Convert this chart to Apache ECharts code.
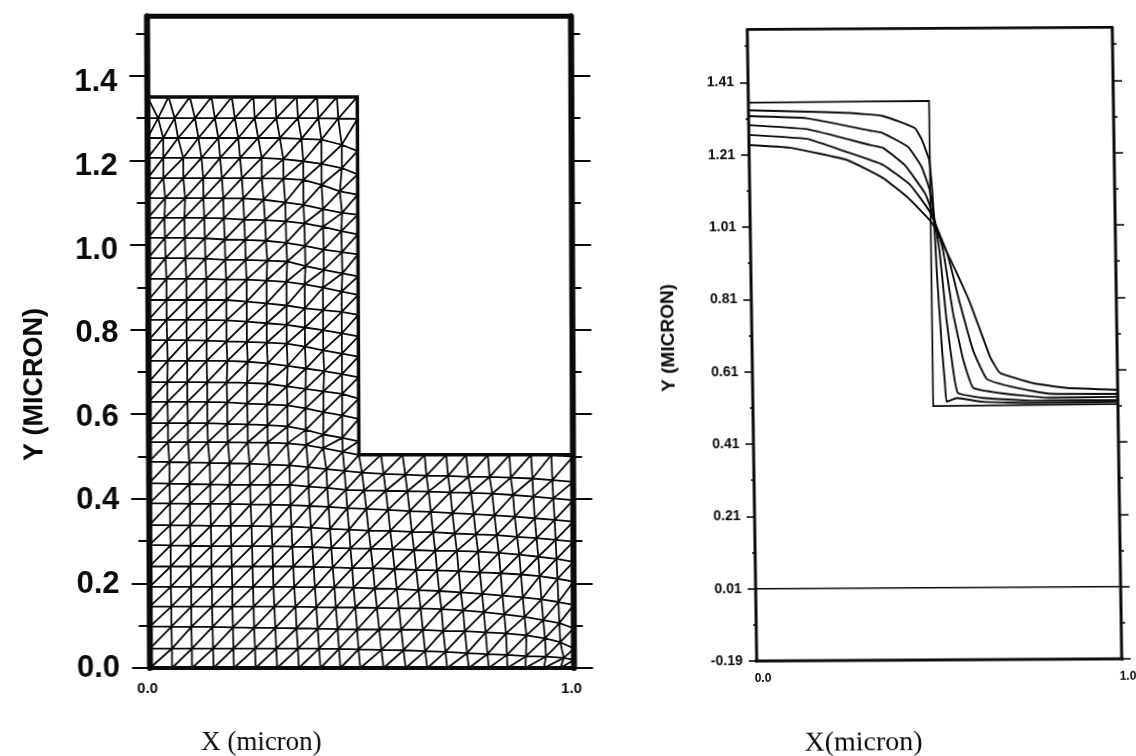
<!DOCTYPE html>
<html><head><meta charset="utf-8">
<script src="https://cdn.jsdelivr.net/npm/echarts@6/dist/echarts.min.js"></script>
<style>
html,body{margin:0;padding:0;background:#fff;width:1136px;height:756px;overflow:hidden}
#left{position:absolute;left:0;top:0;width:640px;height:756px;transform-origin:360px 342px;transform:matrix(1,0,0.0046,1,0,0)}
#right{position:absolute;left:640px;top:0;width:496px;height:756px;transform-origin:294.5px 344.5px;transform:matrix(1,-0.006,0.015,1,0,0)}
</style></head><body>
<div id="left"></div><div id="right"></div>
<script>
// ---- left panel: finite-element mesh, node coordinates in micron (row 0 = bottom) ----
const meshX = [
[0,.052,.099,.150,.198,.249,.300,.351,.402,.449,.496,.551,.603,.654,.701,.752,.799,.843,.885,.929,.968,1],
[0,.052,.099,.149,.197,.248,.298,.349,.399,.446,.492,.546,.598,.649,.697,.748,.796,.842,.887,.934,.976,1],
[0,.051,.098,.148,.196,.246,.296,.346,.396,.443,.489,.541,.593,.644,.692,.743,.792,.840,.888,.932,.968,1],
[0,.051,.098,.147,.195,.245,.294,.344,.393,.439,.485,.536,.588,.639,.688,.739,.788,.836,.884,.928,.966,1],
[0,.050,.098,.147,.195,.244,.292,.341,.390,.436,.481,.531,.583,.634,.683,.734,.784,.832,.880,.924,.964,1],
[0,.050,.097,.146,.194,.243,.291,.339,.387,.432,.478,.527,.578,.629,.678,.729,.779,.828,.876,.920,.962,1],
[0,.050,.097,.146,.193,.242,.290,.337,.384,.429,.474,.522,.573,.624,.674,.725,.775,.824,.872,.917,.960,1],
[0,.049,.096,.145,.192,.241,.288,.335,.381,.426,.471,.517,.568,.619,.669,.720,.770,.819,.867,.913,.958,1],
[0,.049,.096,.144,.191,.239,.286,.333,.378,.423,.467,.512,.563,.614,.664,.715,.765,.814,.862,.909,.956,1],
[0,.048,.095,.144,.190,.238,.285,.332,.376,.420,.464,.507,.558,.609,.659,.710,.759,.809,.858,.906,.953,1],
[0,.048,.095,.143,.190,.237,.284,.331,.375,.418,.461,.502,.553,.604,.654,.705,.753,.803,.853,.904,.951,1],
[0,.045,.092,.139,.186,.233,.280,.327,.371,.411,.457,.495,.547,.598,.650,.701,.748,.799,.850,.901,.949,1],
[0,.045,.092,.138,.185,.233,.280,.327,.370,.411,.456,.495],
[0,.044,.091,.138,.185,.232,.279,.327,.370,.412,.456,.495],
[0,.044,.091,.138,.184,.232,.280,.326,.370,.412,.456,.495],
[0,.045,.091,.137,.186,.234,.281,.328,.371,.414,.456,.495],
[0,.044,.090,.137,.184,.232,.279,.326,.369,.412,.456,.495],
[0,.043,.090,.137,.184,.232,.279,.326,.369,.412,.456,.495],
[0,.043,.090,.137,.184,.232,.279,.326,.369,.412,.456,.495],
[0,.043,.090,.137,.184,.232,.279,.326,.369,.412,.456,.495],
[0,.041,.088,.135,.182,.230,.281,.328,.371,.414,.458,.495],
[0,.040,.087,.134,.181,.229,.278,.326,.370,.414,.457,.495],
[0,.039,.086,.133,.179,.227,.276,.325,.369,.413,.456,.495],
[0,.041,.088,.131,.178,.225,.273,.324,.367,.413,.458,.495],
[0,.037,.084,.131,.175,.222,.269,.320,.367,.410,.453,.495],
[0,.037,.084,.127,.171,.218,.269,.320,.367,.410,.458,.495],
[0,.037,.072,.120,.167,.214,.261,.312,.363,.410,.458,.495],
[0,.025,.064,.112,.159,.206,.253,.304,.355,.403,.450,.495],
[0,0,.050,.100,.151,.199,.250,.301,.352,.400,.447,.495]
];
const meshY = [
[0,0,0,0,0,0,0,0,0,0,0,0,0,0,0,0,0,0,0,0,0,0],
[.046,.046,.046,.046,.046,.046,.046,.046,.046,.045,.044,.043,.042,.040,.038,.035,.033,.031,.028,.027,.024,.019],
[.098,.098,.097,.097,.096,.095,.095,.094,.093,.092,.091,.091,.091,.090,.088,.087,.084,.082,.077,.070,.061,.046],
[.145,.145,.145,.145,.145,.145,.145,.145,.144,.143,.143,.142,.141,.141,.139,.136,.132,.127,.121,.113,.106,.094],
[.192,.192,.192,.192,.192,.192,.192,.192,.191,.191,.190,.188,.187,.184,.182,.179,.175,.171,.167,.162,.156,.149],
[.240,.240,.240,.240,.240,.240,.240,.240,.239,.238,.236,.236,.234,.232,.231,.229,.226,.224,.221,.217,.211,.204],
[.291,.290,.289,.288,.288,.288,.288,.287,.286,.284,.283,.282,.281,.279,.277,.277,.275,.272,.268,.263,.258,.251],
[.338,.338,.337,.336,.336,.336,.335,.334,.332,.329,.327,.325,.324,.322,.321,.318,.316,.314,.310,.307,.303,.299],
[.389,.389,.388,.388,.388,.387,.386,.385,.383,.381,.378,.376,.374,.371,.369,.366,.364,.361,.358,.354,.350,.346],
[.437,.436,.435,.434,.433,.433,.433,.433,.429,.426,.421,.420,.419,.418,.417,.415,.414,.412,.409,.405,.401,.397],
[.488,.487,.486,.485,.484,.483,.481,.479,.475,.470,.466,.462,.459,.457,.455,.454,.452,.452,.450,.448,.444,.440],
[.534,.534,.534,.534,.534,.533,.533,.531,.527,.520,.511,.504,.504,.504,.504,.504,.504,.504,.504,.504,.504,.500],
[.579,.579,.579,.579,.577,.576,.574,.571,.563,.552,.544,.536],
[.629,.629,.629,.629,.628,.625,.623,.621,.614,.605,.597,.589],
[.676,.676,.676,.676,.675,.674,.672,.666,.660,.654,.648,.637],
[.726,.726,.726,.726,.726,.724,.720,.714,.708,.702,.695,.687],
[.775,.775,.775,.774,.772,.771,.769,.767,.760,.751,.743,.736],
[.823,.823,.823,.823,.822,.819,.815,.811,.805,.799,.791,.784],
[.870,.870,.870,.870,.870,.866,.862,.857,.850,.846,.842,.835],
[.920,.920,.920,.920,.918,.918,.916,.913,.907,.899,.890,.882],
[.969,.969,.969,.968,.965,.965,.963,.961,.950,.941,.933,.926],
[1.017,1.017,1.017,1.016,1.013,1.012,1.010,1.005,.998,.989,.983,.978],
[1.064,1.064,1.064,1.064,1.063,1.060,1.059,1.056,1.051,1.043,1.033,1.025],
[1.111,1.111,1.111,1.111,1.111,1.110,1.107,1.101,1.095,1.085,1.076,1.072],
[1.158,1.158,1.158,1.158,1.158,1.158,1.158,1.157,1.154,1.142,1.127,1.119],
[1.206,1.206,1.206,1.206,1.206,1.206,1.206,1.203,1.198,1.192,1.182,1.167],
[1.253,1.253,1.253,1.253,1.253,1.253,1.253,1.253,1.251,1.249,1.237,1.222],
[1.300,1.300,1.300,1.300,1.300,1.300,1.300,1.300,1.300,1.300,1.299,1.298],
[1.350,1.350,1.350,1.350,1.350,1.350,1.350,1.350,1.350,1.350,1.350,1.350]
];
const leftProfile = [[0,1.35],[.495,1.35],[.495,.504],[1,.504]];
const leftFrameTop = [[0,1.541],[1,1.541]];
const leftFrameSides = [[0,0],[0,1.541],null,[1,0],[1,1.541]];
const leftBaseline = [[-.045,0],[1.052,0]];
const leftLabelTicks = [0,.2,.4,.6,.8,1.0,1.2,1.4];
const xTickLabels = [0,1];

// ---- right panel: surface profiles, y in micron ----
const initialProfile = [[0,1.354],[.495,1.356],[.494,.512],[1,.515]];
const profileA = [[0,1.333],[.141,1.329],[.277,1.324],[.368,1.315],[.455,1.281],[.474,1.248],[.493,1.193],[.500,1.110],[.504,1.027],[.509,.888],[.520,.676],[.527,.576],[.531,.524],[.559,.534],[.630,.523],[.767,.519],[1,.521]];
const profileB = [[0,1.317],[.161,1.310],[.332,1.275],[.367,1.268],[.436,1.229],[.472,1.174],[.493,1.110],[.518,.936],[.534,.750],[.550,.612],[.562,.548],[.630,.534],[.767,.525],[1,.526]];
const profileC = [[0,1.292],[.160,1.280],[.332,1.235],[.367,1.227],[.426,1.179],[.480,1.101],[.499,1.046],[.527,.944],[.552,.770],[.578,.640],[.604,.562],[.677,.547],[.814,.533],[1,.535]];
const profileD = [[0,1.265],[.159,1.253],[.268,1.216],[.366,1.180],[.440,1.124],[.493,1.049],[.538,.936],[.571,.797],[.605,.667],[.642,.586],[.723,.561],[.814,.544],[1,.543]];
const profileE = [[0,1.237],[.112,1.229],[.268,1.194],[.365,1.144],[.431,1.091],[.498,1.019],[.551,.908],[.599,.797],[.652,.647],[.678,.603],[.768,.574],[.861,.560],[1,.554]];
const baseline = [[0,.01],[1,.01]];
const rightFrameTop = [[0,1.5566],[1,1.5566]];
const rightFrameSides = [[0,-.19],[0,1.5566],null,[1,-.19],[1,1.5566]];
const rightFrameBottom = [[-.012,-.19],[1.034,-.19]];
const rightMajorTicks = [-.19,.01,.21,.41,.61,.81,1.01,1.21,1.41];
const rightMinorTicks = [-.09,.11,.31,.51,.71,.91,1.11,1.31,1.51];

// ---- build mesh polylines from the node tables ----
const meshSegs = [];
const seg = (a, b) => meshSegs.push(a, b, null);
meshX.forEach((row, j) => {
  row.forEach((x, i) => {
    const p = [x, meshY[j][i]];
    if (i + 1 < row.length) seg(p, [row[i + 1], meshY[j][i + 1]]);
    if (j + 1 < meshX.length && i < meshX[j + 1].length) {
      seg(p, [meshX[j + 1][i], meshY[j + 1][i]]);
      if (i + 1 < meshX[j + 1].length && i + 1 < row.length) seg(p, [meshX[j + 1][i + 1], meshY[j + 1][i + 1]]);
    }
  });
});
const toLine = d => d.map(p => p === null ? ['-', '-'] : p);
const K = '#0a0a0a';
const lineS = (name, data, w, smooth) => ({
  type: 'line', name, data: toLine(data), showSymbol: false, symbol: 'none', clip: false, silent: true,
  connectNulls: false, animation: false, smooth: smooth || false,
  lineStyle: {color: K, width: w, cap: 'round', join: 'miter'}, z: 3
});
const SANS = '"Liberation Sans", Arial, sans-serif';
const SERIF = '"Liberation Serif", "Times New Roman", serif';

const left = echarts.init(document.getElementById('left'), null, {renderer: 'canvas'});
const tickAxis = (position, major, minor) => ({
  type: 'value', position, min: 0, max: 1.6, interval: .2, splitLine: {show: false}, axisLine: {show: false},
  axisLabel: {show: false},
  axisTick: {show: true, length: major, lineStyle: {color: K, width: 2}},
  minorTick: {show: true, splitNumber: 2, length: minor, lineStyle: {color: K, width: 2}}, minorSplitLine: {show: false}
});
left.setOption({
  animation: false, backgroundColor: 'transparent',
  grid: {left: 148.5, top: -8.8, width: 424, height: 676.8, outerBoundsMode: 'none'},
  xAxis: {type: 'value', min: 0, max: 1, splitLine: {show: false}, axisLine: {show: false}, axisTick: {show: false},
    axisLabel: {customValues: xTickLabels, margin: 13, fontFamily: SANS, fontWeight: 'bold', fontSize: 15, color: K, padding: [0, 5, 0, 0], formatter: v => v.toFixed(1)},
    name: 'X (micron)', nameLocation: 'middle', nameGap: 61,
    nameTextStyle: {fontFamily: SERIF, fontSize: 27, color: K, padding: [0, 202, 0, 0]}},
  yAxis: [
    tickAxis('left', 18, 11),
    tickAxis('right', 19, 9),
    {type: 'value', position: 'left', min: 0, max: 1.6195, splitLine: {show: false}, axisLine: {show: false}, axisTick: {show: false},
      axisLabel: {customValues: leftLabelTicks, margin: 30, fontFamily: SANS, fontWeight: 'bold', fontSize: 31, color: K, formatter: v => v.toFixed(1)},
      name: 'Y (MICRON)', nameLocation: 'middle', nameGap: 100, nameRotate: 90,
      nameTextStyle: {fontFamily: SANS, fontWeight: 'bold', fontSize: 27, color: K, padding: [0, 110, 0, 0]}}
  ],
  series: [
    lineS('mesh', meshSegs, 1.8),
    lineS('profile', leftProfile, 3.5),
    lineS('frame top', leftFrameTop, 5),
    lineS('frame sides', leftFrameSides, 6),
    lineS('base', leftBaseline, 4)
  ]
});

const right = echarts.init(document.getElementById('right'), null, {renderer: 'canvas'});
const rAxis = (position, values, len) => ({
  type: 'value', position, min: -.19, max: 1.6, splitLine: {show: false}, axisLine: {show: false}, axisLabel: {show: false},
  axisTick: {show: true, customValues: values, length: len, lineStyle: {color: K, width: 1.6}}
});
const rLabel = rAxis('left', rightMajorTicks, 8);
rLabel.axisLabel = {show: true, customValues: rightMajorTicks, margin: 14, fontFamily: SANS, fontWeight: 'bold', fontSize: 14, color: K, formatter: v => v.toFixed(2)};
rLabel.name = 'Y (MICRON)'; rLabel.nameLocation = 'middle'; rLabel.nameGap = 74; rLabel.nameRotate = 90;
rLabel.nameTextStyle = {fontFamily: SANS, fontWeight: 'bold', fontSize: 19, color: K};
right.setOption({
  animation: false, backgroundColor: 'transparent',
  grid: {left: 112, top: 12.7, width: 365, height: 647.3, outerBoundsMode: 'none'},
  xAxis: {type: 'value', min: 0, max: 1, splitLine: {show: false}, axisLine: {show: false}, axisTick: {show: false},
    axisLabel: {customValues: xTickLabels, margin: 12, fontFamily: SANS, fontWeight: 'bold', fontSize: 12, color: K, padding: [0, 0, 0, 12], formatter: v => v.toFixed(1)},
    name: 'X(micron)', nameLocation: 'middle', nameGap: 69,
    nameTextStyle: {fontFamily: SERIF, fontSize: 28, color: K, padding: [0, 154, 0, 0]}},
  yAxis: [rLabel, rAxis('left', rightMinorTicks, 3), rAxis('right', rightMajorTicks, 9), rAxis('right', rightMinorTicks, 4)],
  series: [
    lineS('initial', initialProfile, 1.7),
    lineS('A', profileA, 1.9, .12), lineS('B', profileB, 1.9, .12), lineS('C', profileC, 1.9, .12), lineS('D', profileD, 1.9, .12), lineS('E', profileE, 1.9, .12),
    lineS('baseline', baseline, 1.5),
    lineS('frame top', rightFrameTop, 2.6),
    lineS('frame sides', rightFrameSides, 3),
    lineS('frame bottom', rightFrameBottom, 2.8)
  ]
});
</script></body></html>
